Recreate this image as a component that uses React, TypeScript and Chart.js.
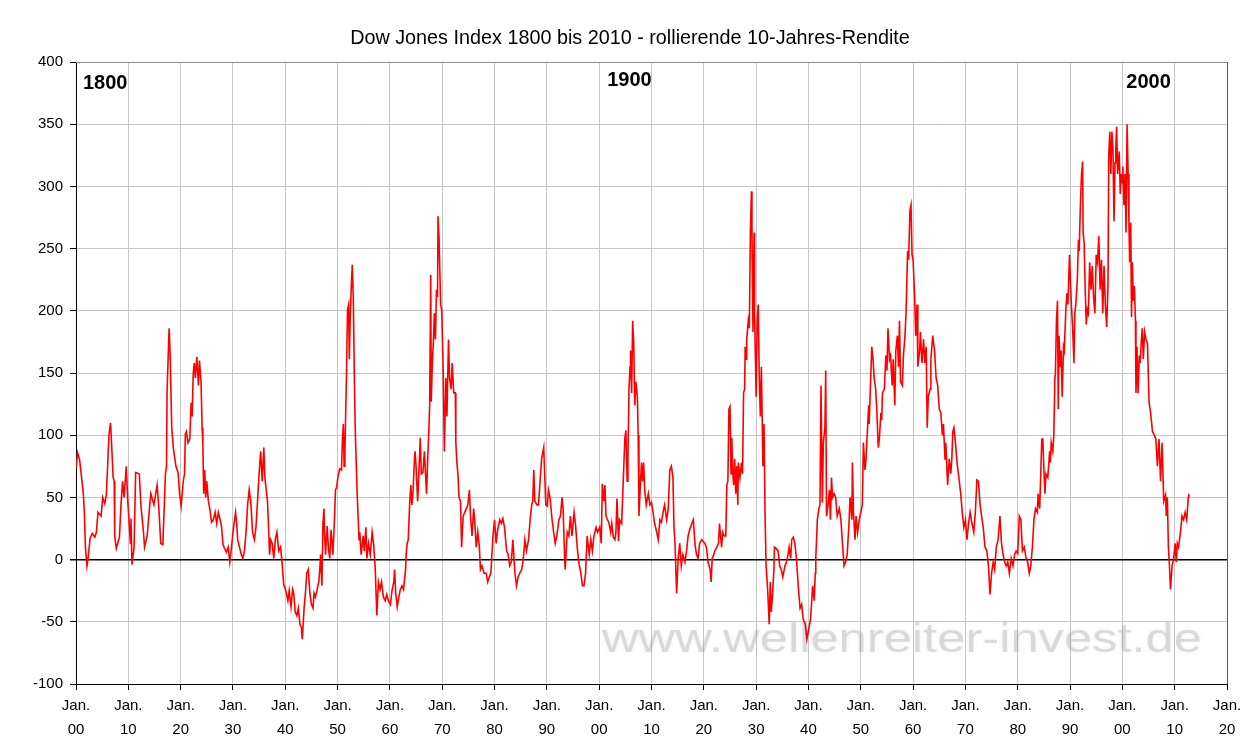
import React, { useEffect, useRef } from 'react';
import { Chart, registerables } from 'chart.js';

Chart.register(...registerables);

// ---------- data (rolling 10-year return in %) ----------
const years1800a = [
  1800.0,1800.3,1800.7,1801.4,1801.6,1801.8,1802.1,1802.3,1802.7,1803.1,
  1803.6,1803.9,1804.2,1804.8,1805.1,1805.5,1805.8,1806.3,1806.6,1806.8,
  1807.1,1807.3,1807.4,1807.7,1808.3,1808.6,1808.9,1809.2,1809.6,1809.9,
  1810.4,1810.5,1810.7,1811.1,1811.4,1812.1,1812.4,1812.9,1813.1,1813.6,
  1814.1,1814.3,1814.9,1815.5,1815.8,1816.2,1816.6,1817.1,1817.3,1817.4,
  1817.7,1817.8,1818.0,1818.3,1818.6,1819.1,1819.5,1819.8,1820.1,1820.5,
  1820.75,1820.9,1821.1,1821.4,1821.75,1822.0,1822.2,1822.4,1822.6,1822.8,
  1823.1,1823.4,1823.6,1823.9,1824.1,1824.25,1824.4,1824.6,1824.8,1825.0,
  1825.3,1825.6,1825.9,1826.25,1826.6,1826.9,1827.2,1827.5,1827.8,1828.1,
  1828.4,1828.75,1829.1,1829.4,1829.7,1830.0,1830.3,1830.5,1830.75,1830.9,
  1831.25,1831.6,1831.9,1832.2,1832.5,1832.8,1833.1,1833.4,1833.75,1834.1,
  1834.4,1834.7,1835.0,1835.3,1835.6,1835.9,1836.1,1836.6,1836.75,1837.0,
  1837.2,1837.5,1837.8,1838.1,1838.4,1838.75,1839.1,1839.4,1839.7,
];
const values1800a = [
  73,86,80,53,38,10,-5,1,17,21,
  18,22,38,35,50,45,52,100,110,93,
  66,63,19,9,18,44,63,50,75,47,
  13,33,-4,10,70,69,44,22,10,19,
  44,53,44,60,44,13,12,69,75,134,
  174,186,164,106,90,75,70,53,43,63,
  69,101,103,94,97,126,115,149,158,146,
  163,140,160,143,106,94,53,72,50,63,
  47,40,30,32,38,29,38,33,27,12,
  9,6,10,-2,9,22,32,38,27,16,
  10,4,1,7,22,44,56,47,22,16,
  26,47,69,87,63,90,66,47,32,4,
  16,13,1,16,22,7,10,-3,-20,
];

const years1800b = [
  1840.1,1840.5,1840.75,1841.1,1841.4,1841.6,1841.9,1842.2,1842.5,1842.8,
  1843.1,1843.25,1843.6,1843.9,1844.1,1844.4,1844.7,1845.0,1845.3,1845.5,
  1845.75,1846.1,1846.4,1846.6,1846.75,1847.0,1847.2,1847.4,1847.5,1847.7,
  1848.0,1848.25,1848.5,1848.75,1849.1,1849.4,1849.6,1849.8,1850.1,1850.4,
  1850.75,1850.9,1851.1,1851.25,1851.4,1851.7,1851.9,1852.1,1852.25,1852.4,
  1852.6,1852.8,1853.0,1853.25,1853.4,1853.75,1854.1,1854.25,1854.5,1854.9,
  1855.1,1855.4,1855.6,1855.9,1856.25,1856.6,1856.9,1857.2,1857.5,1857.8,
  1858.1,1858.4,1858.75,1859.1,1859.4,1859.7,1860.1,1860.4,1860.75,1860.9,
  1861.1,1861.4,1861.7,1862.0,1862.3,1862.6,1863.0,1863.1,1863.3,1863.5,
  1863.8,1864.0,1864.2,1864.4,1864.7,1864.8,1865.0,1865.3,1865.5,1865.8,
  1866.0,1866.3,1866.6,1866.8,1867.0,1867.2,1867.4,1867.6,1867.8,1867.9,
  1868.1,1868.3,1868.5,1868.7,1868.9,1869.1,1869.2,1869.4,1869.7,1869.9,
  1870.2,1870.4,1870.7,1870.9,1871.2,1871.4,1871.7,1871.9,1872.2,1872.5,
  1872.6,1872.8,1873.0,1873.2,1873.5,1873.7,1874.0,1874.3,1874.6,1874.9,
  1875.2,1875.4,1875.7,1876.0,1876.2,1876.5,1876.8,1877.1,1877.3,1877.6,
  1878.0,1878.4,1878.7,1879.0,1879.3,1879.7,1880.0,1880.3,1880.6,1881.0,
  1881.3,1881.6,1881.9,1882.3,1882.6,1882.9,1883.2,1883.5,1883.9,1884.2,
  1884.5,1884.8,1885.2,1885.5,1885.8,1886.1,1886.5,1886.8,1887.1,1887.3,
  1887.5,1887.7,1888.1,1888.4,1888.7,1889.0,1889.4,1889.5,1889.8,1890.1,
  1890.3,1890.6,1891.0,1891.3,1891.6,1891.9,1892.3,1892.6,1892.9,1893.1,
  1893.4,1893.5,1893.9,1894.2,1894.5,1894.8,1895.2,1895.5,1895.8,1896.1,
  1896.5,1896.8,1897.1,1897.4,1897.7,1898.1,1898.4,1898.7,1899.0,1899.4,
  1899.7,
];
const values1800b = [
  -25,-33,-25,-38,-24,-27,-42,-45,-39,-52,
  -55,-64,-39,-24,-11,-8,-27,-36,-39,-27,
  -30,-24,-18,-8,4,-21,29,41,22,4,
  27,9,1,24,4,32,56,58,67,73,
  72,94,109,75,87,149,201,205,161,193,
  217,237,211,134,100,52,16,22,4,19,
  7,26,1,13,4,22,12,-8,-45,-18,
  -24,-18,-30,-33,-28,-33,-36,-25,-18,-8,
  -27,-38,-30,-24,-21,-24,-8,4,13,16,
  47,60,44,53,81,87,75,47,66,98,
  69,70,87,69,53,78,100,124,229,127,
  158,174,198,177,217,211,276,257,205,201,
  149,87,146,115,177,146,137,158,134,134,
  94,78,69,50,47,10,35,38,41,44,
  56,35,19,41,32,10,22,10,-8,-5,
  -11,-11,-18,-14,-11,19,32,13,24,32,
  29,33,26,7,4,-5,-2,16,-11,-21,
  -14,-11,-8,1,16,7,16,32,44,47,
  72,47,44,44,63,81,90,78,44,43,
  56,50,32,22,13,19,32,35,50,41,
  1,-8,22,19,35,19,38,27,10,-2,
  -11,-21,-21,-11,19,4,16,7,19,26,
  22,
];

const years1900a = [
  1900.1,1900.4,1900.6,1900.9,1901.1,1901.3,1901.5,1901.9,1902.2,1902.4,
  1902.7,1903.0,1903.2,1903.4,1903.7,1903.9,1904.3,1904.6,1904.9,1905.1,
  1905.35,1905.5,1905.7,1905.9,1906.0,1906.2,1906.4,1906.6,1906.8,1907.0,
  1907.3,1907.45,1907.6,1907.9,1908.1,1908.3,1908.5,1908.7,1909.0,1909.4,
  1909.7,1910.0,1910.3,1910.6,1911.0,1911.3,1911.6,1911.9,1912.2,1912.5,
  1912.9,1913.2,1913.5,1913.8,1914.1,1914.3,1914.5,1914.8,1915.1,1915.4,
  1915.7,1916.0,1916.4,1916.7,1917.0,1917.3,1917.7,1918.0,1918.3,1918.6,
  1918.9,1919.2,1919.6,1920.2,1920.5,1920.8,1921.2,1921.4,1921.6,1921.9,
  1922.1,1922.5,1922.8,1923.0,1923.2,1923.4,1923.6,1923.9,1924.2,1924.4,
  1924.6,1924.8,1925.0,1925.2,1925.35,1925.5,1925.7,1925.9,1926.1,1926.3,
  1926.5,1926.6,1926.9,1927.2,1927.4,1927.6,1927.8,1927.9,1928.1,1928.2,
  1928.5,1928.7,1928.9,1929.1,1929.2,1929.4,1929.6,1929.7,1930.0,1930.2,
  1930.4,1930.6,1930.8,1931.0,1931.3,1931.5,1931.7,1931.9,1932.2,1932.5,
  1932.7,1932.9,1933.1,1933.4,1933.5,1933.8,1934.2,1934.5,1934.8,1935.1,
  1935.5,1935.8,1936.1,1936.3,1936.6,1936.8,1937.1,1937.4,1937.7,1938.1,
  1938.4,1938.7,1939.0,1939.4,1939.7,1940.1,1940.4,1940.8,1941.1,1941.3,
  1941.4,1941.7,1942.0,1942.2,1942.4,1942.65,1942.85,1943.15,1943.3,1943.45,
  1943.75,1944.0,1944.2,1944.4,1944.6,1944.9,1945.2,1945.5,1945.9,1946.2,
  1946.5,1946.8,1947.1,1947.4,1947.75,1947.95,1948.3,1948.4,1948.6,1948.9,
  1949.1,1949.4,1949.7,
];
const values1900a = [
  26,13,61,47,60,35,33,29,22,29,
  18,16,22,49,15,32,29,63,97,104,
  63,84,137,155,168,134,192,174,124,143,
  131,100,35,63,78,63,78,56,44,53,
  44,46,38,29,22,16,32,30,38,44,
  32,41,72,75,66,26,13,-27,1,13,
  -5,4,-2,7,19,24,29,32,13,4,
  1,13,16,13,10,-2,-8,-18,1,4,
  7,10,13,29,19,10,22,19,19,60,
  63,121,123,69,98,72,60,81,53,75,
  44,78,66,78,69,134,137,171,161,177,
  192,186,263,296,263,183,263,198,131,192,
  205,146,115,155,75,109,38,-5,-24,-52,
  -18,-42,-30,-8,10,9,7,-5,-8,-14,
  -5,-2,4,10,1,16,18,13,1,-24,
  -39,-36,-48,-52,-64,-55,-48,-21,-33,-11,
  1,32,41,44,140,46,94,106,152,35,
  44,56,32,66,50,53,50,35,41,32,
  13,-5,-2,4,29,50,32,78,38,16,
  35,22,32,
];

const years1900b = [
  1950.0,1950.3,1950.5,1950.8,1951.0,1951.3,1951.5,1951.6,1951.9,1952.1,
  1952.35,1952.55,1952.85,1953.05,1953.35,1953.55,1953.85,1954.0,1954.15,1954.5,
  1954.8,1955.0,1955.2,1955.5,1955.7,1956.0,1956.2,1956.5,1956.7,1957.0,
  1957.2,1957.4,1957.6,1957.95,1958.15,1958.45,1958.65,1958.95,1959.15,1959.4,
  1959.6,1959.8,1960.0,1960.3,1960.5,1960.75,1960.9,1961.25,1961.4,1961.7,
  1962.0,1962.25,1962.5,1962.7,1962.9,1963.25,1963.4,1963.75,1964.1,1964.4,
  1964.7,1965.0,1965.3,1965.6,1965.8,1966.1,1966.25,1966.6,1966.9,1967.2,
  1967.4,1967.6,1967.8,1968.1,1968.4,1968.75,1969.1,1969.4,1969.7,1970.0,
  1970.3,1970.6,1970.9,1971.25,1971.6,1971.9,1972.2,1972.5,1972.8,1973.1,
  1973.4,1973.75,1974.1,1974.4,1974.7,1975.0,1975.3,1975.6,1975.9,1976.25,
  1976.6,1976.9,1977.2,1977.5,1977.8,1978.1,1978.4,1978.75,1979.1,1979.4,
  1979.7,1980.0,1980.3,1980.6,1980.9,1981.25,1981.6,1981.9,1982.2,1982.5,
  1982.8,1983.1,1983.4,1983.75,1983.9,1984.2,1984.4,1984.6,1984.8,1985.0,
  1985.2,1985.4,1985.75,1986.1,1986.25,1986.4,1986.7,1986.9,1987.1,1987.2,
  1987.4,1987.6,1987.75,1987.9,1988.1,1988.3,1988.5,1988.75,1988.9,1989.2,
  1989.4,1989.6,1989.75,1989.9,1990.1,1990.3,1990.5,1990.75,1990.9,1991.1,
  1991.4,1991.6,1991.75,1992.0,1992.2,1992.4,1992.5,1992.7,1992.9,1993.1,
  1993.3,1993.5,1993.75,1994.0,1994.25,1994.5,1994.75,1995.0,1995.25,1995.5,
  1995.75,1996.0,1996.25,1996.5,1996.75,1997.0,1997.25,1997.4,1997.6,1997.8,
  1998.0,1998.2,1998.4,1998.6,1998.75,1998.9,1999.1,1999.4,1999.6,1999.75,
];
const values1900b = [
  38,44,94,72,81,106,124,109,146,171,
  161,146,137,121,90,97,118,112,134,137,
  164,152,186,161,164,140,161,124,168,180,
  155,192,143,140,164,180,198,248,241,281,
  285,245,241,211,180,205,155,168,183,158,
  177,158,171,106,131,137,161,180,168,146,
  140,121,118,100,109,81,94,60,81,69,
  81,103,106,94,78,66,53,38,26,32,
  16,29,38,29,22,38,64,63,44,35,
  26,10,7,-5,-28,-11,-2,-8,10,16,
  35,13,4,-2,-5,-2,-11,1,-5,4,
  7,5,35,32,7,10,1,-2,-11,-5,
  10,32,41,38,53,41,69,97,97,72,
  53,69,66,87,78,94,87,100,146,149,
  192,208,121,180,155,168,131,171,168,201,
  214,205,226,245,220,201,186,158,198,205,
  226,257,248,288,310,320,263,254,217,189,
  201,198,239,217,236,211,198,245,239,260,
  217,241,198,236,205,187,220,325,344,310,
  344,331,272,319,331,348,310,328,294,310,
];

const years2000 = [
  2000.0,2000.1,2000.3,2000.5,2000.7,2000.9,2001.1,2001.25,2001.4,2001.6,
  2001.75,2001.9,2002.1,2002.3,2002.5,2002.6,2002.8,2003.0,2003.25,2003.4,
  2003.6,2003.8,2004.0,2004.25,2004.5,2004.8,2005.1,2005.4,2005.75,2006.1,
  2006.4,2006.7,2007.0,2007.3,2007.6,2007.9,2008.25,2008.4,2008.6,2008.8,
  2009.0,2009.2,2009.5,2009.8,2010.1,2010.3,2010.5,2010.75,2011.1,2011.4,
  2011.7,2012.0,2012.3,2012.6,2012.7,
];
const values2000 = [
  303,316,285,310,263,350,310,272,239,271,
  195,239,208,220,192,134,171,134,164,158,
  174,186,161,183,177,174,127,118,103,100,
  97,75,97,63,94,47,52,35,50,10,
  -5,-24,-5,1,13,-2,13,10,22,35,
  32,38,32,50,53,
];

const decadeLabels = ['00','10','20','30','40','50','60','70','80','90','00','10','20','30','40','50','60','70','80','90','00','10','20'];
const centuryLabels = ['1800', '1900', '2000'];
const centuryYears = [1800, 1900, 2000];
const titleText = 'Dow Jones Index 1800 bis 2010 - rollierende 10-Jahres-Rendite';
const watermarkText = 'www.wellenreiter-invest.de';

const FONT = '"Liberation Sans", Arial, Helvetica, sans-serif';

export default function App() {
  const canvasRef = useRef<HTMLCanvasElement | null>(null);

  useEffect(() => {
    document.body.style.margin = '0';
    const canvas = canvasRef.current;
    if (!canvas) return;

    const allYears = [...years1800a, ...years1800b, ...years1900a, ...years1900b, ...years2000];
    const allValues = [...values1800a, ...values1800b, ...values1900a, ...values1900b, ...values2000];
    const points = allYears.map((x, i) => ({ x, y: allValues[i] }));

    const decor = {
      id: 'decor',
      beforeDatasetsDraw(chart: any) {
        const { ctx, chartArea } = chart;
        const { left, right, top, bottom } = chartArea;
        ctx.save();
        // top and right frame
        ctx.lineWidth = 1;
        ctx.strokeStyle = '#8a8a8a';
        ctx.beginPath();
        ctx.moveTo(left, top + 0.5);
        ctx.lineTo(right, top + 0.5);
        ctx.stroke();
        ctx.strokeStyle = '#5a5a5a';
        ctx.beginPath();
        ctx.moveTo(right + 0.5, top);
        ctx.lineTo(right + 0.5, bottom);
        ctx.stroke();
        // watermark
        ctx.font = `41px ${FONT}`;
        const w = ctx.measureText(watermarkText).width;
        ctx.translate(602, 652);
        ctx.scale(600 / w, 1);
        ctx.fillStyle = 'rgba(150,150,150,0.3)';
        ctx.shadowColor = 'rgba(150,150,150,0.45)';
        ctx.shadowBlur = 4;
        ctx.textAlign = 'left';
        ctx.textBaseline = 'alphabetic';
        ctx.fillText(watermarkText, 0, 0);
        ctx.restore();
      },
      afterDraw(chart: any) {
        const { ctx } = chart;
        const xs = chart.scales.x;
        ctx.save();
        ctx.fillStyle = '#000';
        ctx.textBaseline = 'alphabetic';
        ctx.textAlign = 'center';
        ctx.font = `19.8px ${FONT}`;
        ctx.fillText(titleText, 630, 44);
        ctx.textAlign = 'left';
        ctx.font = `bold 20px ${FONT}`;
        const offX = [7, 8, 4];
        const baseY = [89, 86, 88];
        centuryLabels.forEach((lab, i) => {
          ctx.fillText(lab, xs.getPixelForValue(centuryYears[i]) + offX[i], baseY[i]);
        });
        ctx.restore();
      },
    };

    const chart = new Chart(canvas, {
      type: 'line',
      data: {
        datasets: [
          {
            data: points,
            borderColor: '#ff0000',
            borderWidth: 1.6,
            pointRadius: 0,
            fill: false,
            tension: 0,
          },
        ],
      },
      options: {
        responsive: false,
        animation: false,
        devicePixelRatio: 1,
        layout: { padding: { top: 62, right: 20, left: 0, bottom: 0 } },
        plugins: {
          legend: { display: false },
          tooltip: { enabled: false },
          title: { display: false },
        },
        scales: {
          x: {
            type: 'linear',
            min: 1800,
            max: 2020,
            afterFit: (s: any) => { s.height = 59; },
            border: { display: true, color: '#000', width: 1 },
            grid: { color: '#c6c6c6', lineWidth: 1, tickLength: 6, tickColor: '#000' },
            ticks: {
              stepSize: 10,
              autoSkip: false,
              maxRotation: 0,
              padding: 4,
              color: '#000',
              font: { family: FONT, size: 15, lineHeight: 1.6 },
              callback: (v: any) => {
                const idx = Math.round((Number(v) - 1800) / 10);
                return ['Jan.', decadeLabels[idx] ?? ''];
              },
            },
          },
          y: {
            min: -100,
            max: 400,
            afterFit: (s: any) => { s.width = 76; },
            border: { display: true, color: '#000', width: 1 },
            grid: {
              color: (c: any) => (c.tick && c.tick.value === 0 ? '#000' : '#c6c6c6'),
              lineWidth: (c: any) => (c.tick && c.tick.value === 0 ? 1.5 : 1),
              tickLength: 6,
              tickColor: '#000',
            },
            ticks: {
              stepSize: 50,
              padding: 7,
              color: '#000',
              font: { family: FONT, size: 15 },
            },
          },
        },
      },
      plugins: [decor],
    });

    return () => chart.destroy();
  }, []);

  return (
    <div style={{ width: 1247, height: 743 }}>
      <canvas ref={canvasRef} width={1247} height={743} style={{ display: 'block', width: 1247, height: 743 }} />
    </div>
  );
}
